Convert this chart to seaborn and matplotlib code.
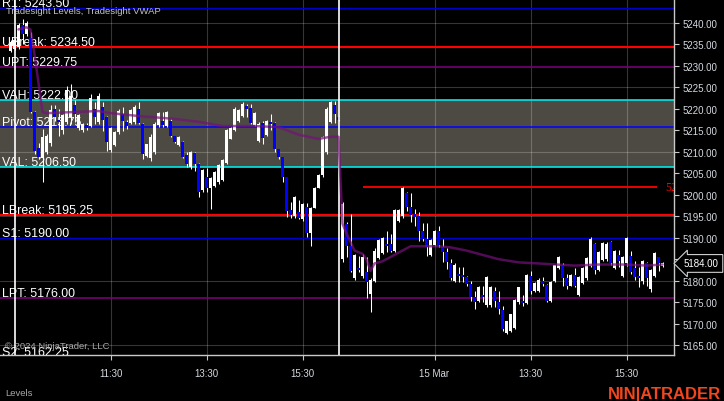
import numpy as np
import pandas as pd
import matplotlib
matplotlib.use("Agg")
import matplotlib.pyplot as plt
import matplotlib.transforms as mtransforms
from matplotlib import font_manager
import seaborn as sns

# 5 minute bars, two RTH sessions of 81 bars (9:35 .. 16:15), the first two bars are the tail of the prior session
first_bar = -2
bars_per_session = 81
session_first_bar_time = "9:35"

opens = [5233.5, 5234,
         5234.5, 5239.5, 5237.5, 5236.5, 5219.25, 5211, 5208.5, 5210, 5212, 5220,
         5217.5, 5215, 5217, 5218, 5221, 5215.5, 5215, 5216.25, 5216, 5220,
         5217, 5220.5, 5218, 5210.5, 5211.5, 5214.5, 5218.75, 5217, 5216.75, 5217,
         5220, 5216.5, 5209, 5208.5, 5210, 5216.25, 5217.25, 5216, 5217.25, 5213.75,
         5211.5, 5212.25, 5209.25, 5206.5, 5209.75, 5207.25, 5201, 5204.25, 5201.5, 5202,
         5203, 5203.5, 5207.5, 5213, 5215, 5217.25, 5218.25, 5220.75, 5220.25, 5216.25,
         5212.5, 5216.75, 5214, 5217, 5216.75, 5210.75, 5208.75, 5204.25, 5196.5, 5195,
         5196, 5194.25, 5197.25, 5191, 5197, 5201.5, 5204.5, 5210, 5217, 5221, 5218,
         5185, 5193.25, 5188, 5180.5, 5183, 5181, 5182, 5177, 5180, 5185.25,
         5186.5, 5188.5, 5188.5, 5187, 5194, 5195, 5200.5, 5197.25, 5195.5, 5195,
         5191.5, 5189.75, 5186, 5188.25, 5191.5, 5187.75, 5186.75, 5184, 5180, 5181.5,
         5181.25, 5180.75, 5179.25, 5176.25, 5175.25, 5176.5, 5174.25, 5174.25, 5177.5, 5175,
         5173.25, 5167.75, 5168.25, 5169, 5175, 5175.25, 5174.75, 5181, 5177.5, 5177.5,
         5180, 5179, 5175.25, 5180, 5183, 5183.75, 5180.5, 5178.75, 5181.25, 5176.75,
         5179.5, 5180.5, 5183.5, 5188.5, 5182.5, 5184.75, 5185, 5189, 5183, 5186,
         5181, 5184, 5185.75, 5183, 5181, 5180, 5184, 5178, 5181, 5185.5, 5183.5]
highs = [5236, 5236.5,
         5240, 5241, 5240.5, 5238, 5219.5, 5212, 5215.25, 5214.25, 5221, 5221,
         5220, 5218.75, 5225.25, 5225.75, 5222, 5218.75, 5216.75, 5216.75, 5223.5, 5221.5,
         5223.75, 5221.5, 5218.25, 5215.75, 5214.75, 5220, 5220.5, 5217.5, 5220, 5221,
         5221.5, 5216.75, 5211.75, 5214.25, 5217, 5219.25, 5219.25, 5219.5, 5217.75, 5213.75,
         5213.75, 5212.5, 5210, 5210.25, 5210, 5207.5, 5206, 5206.25, 5204.25, 5205.5,
         5207.25, 5208.25, 5215.25, 5215.75, 5220.5, 5220, 5221.5, 5221.25, 5221.25, 5219.25,
         5217, 5217.25, 5217.5, 5218.75, 5217, 5210.75, 5208.75, 5204.25, 5198.25, 5199.75,
         5198.75, 5198, 5198, 5197.25, 5201.75, 5204.75, 5213.75, 5220.5, 5221.75, 5221.75, 5218.25,
         5198.25, 5193.75, 5195.5, 5186.25, 5185.75, 5186.25, 5185.5, 5180.5, 5187.5, 5189.75,
         5190.25, 5191.5, 5190.75, 5196.75, 5196.75, 5201.75, 5200.75, 5200.5, 5196.75, 5196,
         5193.5, 5193.5, 5189.75, 5191.75, 5192.75, 5189.75, 5187.5, 5185, 5184, 5183.25,
         5183.25, 5181, 5180, 5177.5, 5178.75, 5178.75, 5181, 5178.75, 5178.5, 5177.5,
         5174, 5170.5, 5172.25, 5175.75, 5178.5, 5176.75, 5181.5, 5182.25, 5179.75, 5180.5,
         5180.75, 5179.25, 5180, 5183.75, 5185.75, 5184, 5181.5, 5181.5, 5183, 5181,
         5183.25, 5185.5, 5190.25, 5188.75, 5187, 5189, 5189, 5189.25, 5187.25, 5187.25,
         5185.75, 5190.25, 5187, 5184.5, 5183.25, 5184.75, 5184.25, 5182.75, 5186.75, 5185.5, 5184.25]
lows = [5233.25, 5233.75,
        5234, 5235, 5237, 5219, 5209.5, 5208.25, 5203, 5209.5, 5211.25, 5217.25,
        5213.75, 5214.25, 5216.5, 5216.5, 5217, 5215, 5214.5, 5215, 5215.75, 5216.5,
        5216.5, 5214.75, 5210.25, 5210, 5211.25, 5214.25, 5214.75, 5215.25, 5216.5, 5216.5,
        5216.5, 5208.25, 5208.75, 5207.75, 5209.5, 5215.75, 5215.75, 5215.75, 5213.5, 5212,
        5211.25, 5208.5, 5206.5, 5206, 5205.5, 5199.5, 5200.75, 5200.75, 5196.75, 5201.75,
        5202.5, 5203.25, 5207.25, 5213, 5214.75, 5217, 5218, 5218, 5216.5, 5216,
        5212.25, 5211.75, 5213.75, 5215, 5210, 5208.25, 5203, 5194.75, 5194.5, 5194.5,
        5194.25, 5194, 5190.25, 5188, 5197, 5201.5, 5204.25, 5209.5, 5216.75, 5216.75, 5217.25,
        5184.25, 5185.5, 5182, 5180.25, 5182, 5180.5, 5176, 5172.75, 5179.75, 5185,
        5186.25, 5186.75, 5186.75, 5186.75, 5193.75, 5194.5, 5196.25, 5193.75, 5192.75, 5189.25,
        5189.25, 5185.75, 5185.75, 5188, 5187.75, 5184.25, 5182.75, 5180.25, 5179.75, 5179.75,
        5179.75, 5178.75, 5175.25, 5173.5, 5175, 5175, 5173.75, 5173.75, 5173.75, 5172.25,
        5168.25, 5167.5, 5168, 5168.75, 5174.5, 5174, 5174.5, 5177, 5177.25, 5177.25,
        5178.75, 5175, 5175, 5179.75, 5182.75, 5178.75, 5178, 5178.75, 5178.5, 5176.5,
        5179.25, 5180.25, 5183.25, 5181.5, 5182.25, 5184.5, 5184.5, 5183.75, 5182.75, 5183.25,
        5180.75, 5183.5, 5181.5, 5180.25, 5178.5, 5179.25, 5178.75, 5177.25, 5180.75, 5182.25, 5183.25]
closes = [5235.5, 5236,
          5239.5, 5237.5, 5240, 5219.25, 5210.25, 5208.75, 5213.5, 5213.75, 5219.75, 5218,
          5217, 5218.5, 5224.5, 5223, 5218.75, 5218.5, 5216.5, 5215.5, 5222.5, 5218,
          5223, 5217.5, 5212.25, 5215.5, 5214.5, 5219.5, 5217.25, 5216, 5219.75, 5220.5,
          5216.75, 5209.5, 5211.75, 5213.5, 5216.5, 5219, 5216.25, 5219.25, 5213.75, 5212.25,
          5213.5, 5208.75, 5207.25, 5210, 5207.25, 5200.75, 5205.75, 5201.5, 5204, 5205.25,
          5207, 5208, 5215, 5215.5, 5220, 5219.75, 5221.25, 5220, 5216.75, 5219,
          5216.5, 5213.25, 5217.25, 5216.5, 5210.75, 5208.75, 5204.25, 5196.25, 5195.25, 5199.5,
          5194.5, 5197.75, 5191, 5197, 5201.5, 5204.5, 5213.5, 5220, 5221.5, 5218.75, 5217.5,
          5197.75, 5188, 5182.25, 5186, 5182.5, 5185.5, 5179.75, 5180.25, 5187, 5189.5,
          5190, 5188, 5187, 5196.5, 5196.5, 5201.5, 5197.25, 5195.25, 5194.75, 5191.5,
          5189.75, 5187.75, 5189.5, 5191.5, 5188.25, 5186.75, 5184.25, 5180.5, 5183.75, 5181,
          5180.75, 5179.25, 5176.25, 5175, 5178.5, 5176.25, 5180.75, 5178.5, 5175.25, 5173.5,
          5168.75, 5170.5, 5172.25, 5175.5, 5178.5, 5174.75, 5181.25, 5177.5, 5179.5, 5180.25,
          5179.25, 5175.25, 5179.75, 5183.75, 5185.5, 5180.5, 5178.75, 5181.25, 5178.75, 5180.75,
          5183, 5185.25, 5189.75, 5182.5, 5186.75, 5188.75, 5188.5, 5184, 5187, 5184.5,
          5185.5, 5190, 5182, 5180.75, 5180.5, 5184.5, 5180.5, 5182.5, 5186.5, 5184, 5184]

# Tradesight VWAP, read at a handful of bars
vwap_bars = [0, 2, 3, 4, 6, 7, 20, 23, 31, 38, 45, 51, 59, 65, 70, 75, 78, 80,
             81, 82, 84, 86, 87, 88, 89, 91, 93, 96, 98, 102, 105, 108, 112, 116,
             120, 125, 130, 139, 145, 152, 157, 161]
vwap_values = [5238.5, 5239, 5238.5, 5232.75, 5219.25, 5219, 5219.5, 5219, 5218.25,
               5217.75, 5217, 5216, 5216, 5215.75, 5214, 5213, 5213.5, 5213.5,
               5193.25, 5191, 5187, 5186.25, 5185, 5182.25, 5184, 5184.5, 5185.5,
               5187, 5188, 5188, 5188, 5187.75, 5187, 5186, 5185, 5184.25, 5184,
               5183.5, 5183.75, 5183.75, 5183.5, 5183.75]

# Tradesight levels
level_names = ["R1", "UBreak", "UPT", "VAH", "Pivot", "VAL", "LBreak", "S1", "LPT", "S2"]
level_values = [5243.50, 5234.50, 5229.75, 5222.00, 5215.75, 5206.50, 5195.25, 5190.00, 5176.00, 5162.25]
level_colors = ["#0000cd", "#ff0000", "#800080", "#00e8e8", "#0000ff",
                "#00e8e8", "#ff0000", "#0000cd", "#800080", "#0000cd"]
level_widths = [1.0, 1.5, 1.1, 1.2, 1.1, 1.2, 1.5, 1.0, 1.1, 1.0]

# drawn level from the afternoon of day 2
marker_level = 5201.75
marker_from_bar = 86

x_tick_times = ["11:30", "13:30", "15:30", "11:30", "13:30", "15:30"]
x_tick_session = [0, 0, 0, 1, 1, 1]
x_tick_labels = ["11:30", "13:30", "15:30", "15 Mar", "13:30", "15:30"]


def minutes(t):
    h, m = t.split(":")
    return int(h) * 60 + int(m)


sns.set_theme(style="dark")
plt.rcParams["font.family"] = ["Liberation Sans", "DejaVu Sans"]

installed = {f.name for f in font_manager.fontManager.ttflist}
logo_font = "Liberation Sans Narrow" if "Liberation Sans Narrow" in installed else "Liberation Sans"

bars = pd.DataFrame({"open": opens, "high": highs, "low": lows, "close": closes})
bars["bar"] = np.arange(first_bar, first_bar + len(bars))
bars["up"] = bars["close"] >= bars["open"]
vwap = pd.DataFrame({"bar": vwap_bars, "vwap": vwap_values})

fig = plt.figure(figsize=(7.24, 4.02), dpi=100, facecolor="black")
ax = fig.add_axes([0, 46 / 402, 674 / 724, 356 / 402])
ax.set_facecolor("black")

# value area band and grid
ax.axhspan(level_values[5], level_values[3], color="#4c4a43", lw=0, zorder=1)
for v in np.arange(5165, 5241, 15):
    ax.axhline(v, color="white", alpha=0.21, lw=0.8, zorder=1.5)
first = minutes(session_first_bar_time)
tick_pos = [s * bars_per_session + (minutes(t) - first) / 5 for t, s in zip(x_tick_times, x_tick_session)]
for p in tick_pos:
    ax.axvline(p, color="white", alpha=0.21, lw=0.8, zorder=1.5)

# levels with labels
label_trans = mtransforms.offset_copy(ax.get_yaxis_transform(), fig=fig, x=0, y=2, units="dots")
for name, val, col, w in zip(level_names, level_values, level_colors, level_widths):
    ax.axhline(val, color=col, lw=w, zorder=2)
    ax.text(2 / 674, val, f"{name}: {val:.2f}", transform=label_trans, color="white",
            fontsize=8.9, va="baseline", ha="left", zorder=2.8, clip_on=True)

last_bar = bars["bar"].iloc[-1]
ax.hlines(marker_level, marker_from_bar, last_bar - 1.5, color="#ff0000", lw=1.3, zorder=2)
ax.text(last_bar + 0.6, marker_level, f"{marker_level:.2f}", color="#ff0000",
        fontsize=8.5, family="Liberation Serif", va="center", ha="left", clip_on=True, zorder=2)

# candles: white wicks, white up bodies, blue down bodies
ax.vlines(bars["bar"], bars["low"], bars["high"], color="white", lw=0.75, zorder=3)
body_low = bars[["open", "close"]].min(axis=1)
body_h = (bars["close"] - bars["open"]).abs().clip(lower=0.3)
ax.bar(bars["bar"], body_h, bottom=body_low, width=0.55, lw=0,
       color=np.where(bars["up"], "white", "#0000ff"), zorder=3.2)

# session breaks
for s in range(2):
    ax.axvline(s * bars_per_session - 1, color="white", lw=1.2, zorder=3.5)

sns.lineplot(data=vwap, x="bar", y="vwap", ax=ax, color="#76107a", lw=1.8, alpha=0.7,
             estimator=None, sort=True, legend=False, zorder=4)

ax.set_xlim(-4.625, 163.875)
ax.set_ylim(5162.68, 5245.59)
ax.set_xlabel("")
ax.set_ylabel("")

ax.yaxis.tick_right()
yt = np.arange(5165, 5241, 5)
ax.set_yticks(yt)
ax.set_yticklabels([f"{v:.2f}" for v in yt])
ax.set_xticks(tick_pos)
ax.set_xticklabels(x_tick_labels)
ax.tick_params(axis="y", which="both", right=True, left=False, colors="#c8c8c8",
               labelcolor="#d4d8de", length=3.6, width=0.8, pad=2.2, labelsize=7)
ax.tick_params(axis="x", bottom=True, colors="#c8c8c8", labelcolor="#d4d8de",
               length=3.6, width=0.8, pad=5.5, labelsize=7)
for side in ["left", "top"]:
    ax.spines[side].set_visible(False)
for side in ["right", "bottom"]:
    ax.spines[side].set_visible(True)
    ax.spines[side].set_color("#c8c8c8")
    ax.spines[side].set_linewidth(1.0)
ax.grid(False)

# last price badge
badge_trans = mtransforms.blended_transform_factory(ax.transAxes, ax.transData)
ax.text(684 / 674, closes[-1], f"{closes[-1]:.2f}", transform=badge_trans, color="white",
        fontsize=7, ha="left", va="center", clip_on=False, zorder=6,
        bbox=dict(boxstyle="larrow,pad=0.4", fc="black", ec="#d0d0d0", lw=0.8))

ax.text(6 / 674, 1 - 14 / 356, "Tradesight Levels, Tradesight VWAP", transform=ax.transAxes,
        color="#c4c4c4", fontsize=6.8, va="baseline", ha="left", zorder=7)
ax.text(5 / 674, 1 - 349 / 356, "\u00a9 2024 NinjaTrader, LLC", transform=ax.transAxes,
        color="#a8a8a8", fontsize=6.8, va="baseline", ha="left", zorder=7)
fig.text(5 / 724, 1 - 396 / 402, "Levels", color="#a8a8a8", fontsize=6.8, va="baseline", ha="left")
logo_size = 13.5 if logo_font == "Liberation Sans Narrow" else 12
fig.text(721 / 724, 1 - 399 / 402, "NIN|ATRADER", color="#f2461e", fontsize=logo_size, fontweight="bold",
         family=logo_font, va="baseline", ha="right")

fig.savefig("out.png", dpi=100, facecolor="black")
